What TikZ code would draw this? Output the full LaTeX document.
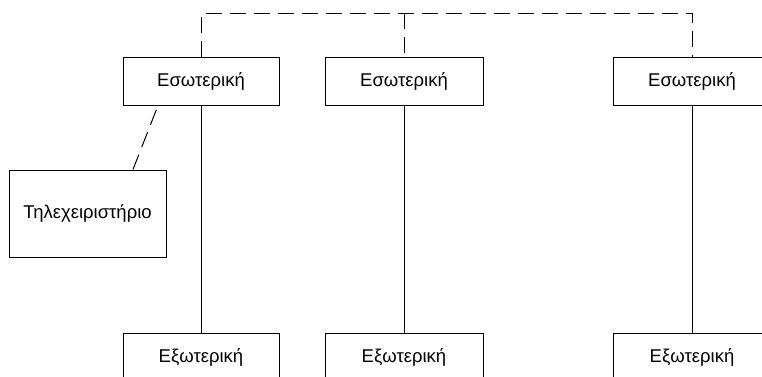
\documentclass[tikz,border=0pt]{standalone}
\usepackage{fontspec}
\setmainfont{Liberation Sans}
\begin{document}
\begin{tikzpicture}[x=1pt,y=-1pt,
  unit/.style={draw, line width=1pt, inner sep=0pt, minimum height=48pt, font=\fontsize{18.5}{21}\selectfont},
  link/.style={line width=1pt},
  wireless/.style={line width=1pt, dash pattern=on 16pt off 8pt}]
\useasboundingbox (0,0) rectangle (762,376);
\clip (0,0) rectangle (762,376);
% indoor units
\node[unit, minimum width=156pt] (t1) at (201,81) {Εσωτερική};
\node[unit, minimum width=158pt] (t2) at (404,81) {Εσωτερική};
\node[unit, minimum width=158pt] (t3) at (692,81) {Εσωτερική};
% outdoor units
\node[unit, minimum width=156pt] (b1) at (201,357) {Εξωτερική};
\node[unit, minimum width=158pt] (b2) at (404,357) {Εξωτερική};
\node[unit, minimum width=158pt] (b3) at (692,357) {Εξωτερική};
% remote control
\node[unit, minimum width=157pt, minimum height=87pt] (rc) at (87.5,213.5) {Τηλεχειριστήριο};
\coordinate (bus) at (0,13);
% refrigerant lines
\draw[link] (t1.south) -- (b1.north);
\draw[link] (t2.south) -- (b2.north);
\draw[link] (t3.south) -- (b3.north);
% control bus
\draw[wireless] (t1.north) -- (t1.north |- bus) -- (t3.north |- bus) -- (t3.north);
\draw[wireless] (t2.north |- bus) -- (t2.north);
\draw[wireless] ([xshift=45.5pt]rc.north) -- ([xshift=-43pt]t1.south);
\end{tikzpicture}
\end{document}
